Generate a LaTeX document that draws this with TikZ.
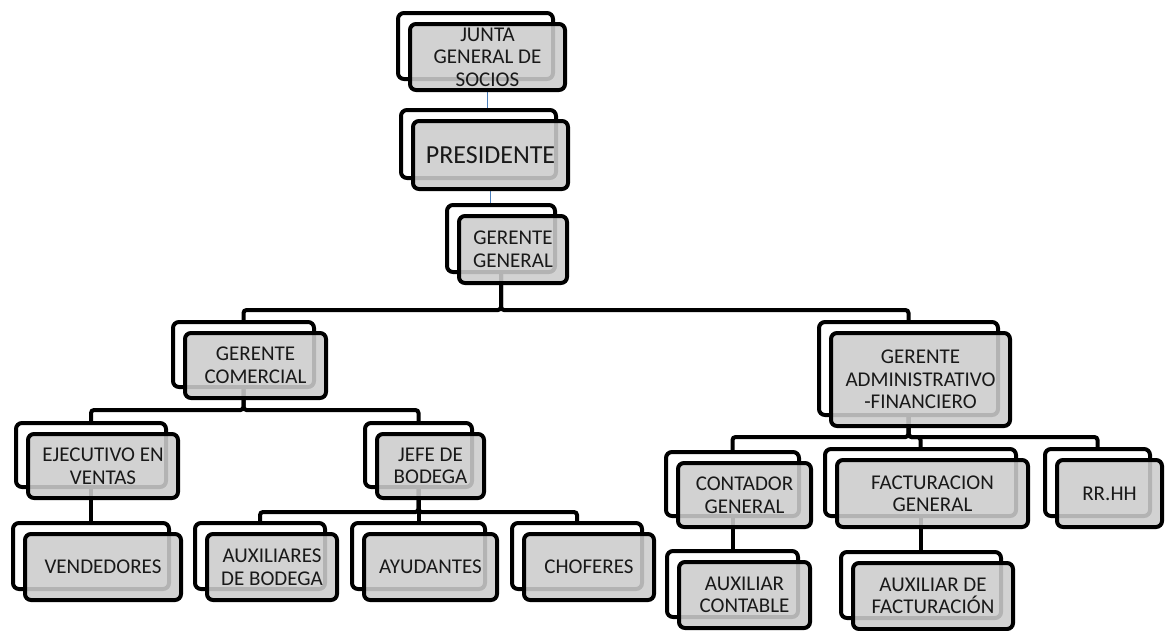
\documentclass[tikz,border=0pt]{standalone}
\usepackage{fontspec}
\setmainfont{Carlito}
\pgfdeclarelayer{bg}
\pgfsetlayers{bg,main}
\definecolor{linkblue}{HTML}{4A7EBB}
\tikzset{
  backbox/.style={draw=black, line width=4pt, fill=white, rounded corners=6pt, inner sep=0pt},
  frontbox/.style={draw=black, line width=4pt, fill=black!20, fill opacity=0.88, draw opacity=1, rounded corners=6pt, inner sep=0pt},
  boxlabel/.style={inner sep=0pt, align=center, text=black!90, font=\fontsize{21}{22.5}\selectfont},
  conn/.style={line width=4pt, draw=black, rounded corners=3pt},
  bluelink/.style={line width=1.2pt, draw=linkblue}
}
\newcommand\obox[6]{%
  \node[backbox, minimum width=#4pt-4pt, minimum height=#5pt-4pt] (#1-b) at ({#2-12},{#3-11}) {};
  \node[frontbox, minimum width=#4pt-4pt, minimum height=#5pt-4pt] (#1) at (#2,#3) {};
  \node[boxlabel] (#1-t) at (#1.center) {#6};
}
\begin{document}
\begin{tikzpicture}[x=1pt,y=-1pt]
\useasboundingbox (0,0) rectangle (1165,630);

\obox{junta}{487.5}{57}{159}{70}{JUNTA\\GENERAL DE\\SOCIOS}
\obox{pres}{490.5}{155}{159}{72}{\fontsize{26}{28}\selectfont PRESIDENTE}
\obox{gg}{513}{249.5}{112}{71}{GERENTE\\GENERAL}
\obox{gc}{255.5}{365.5}{145}{69}{GERENTE\\COMERCIAL}
\obox{gaf}{920.5}{379.5}{183}{97}{GERENTE\\ADMINISTRATIVO\\-FINANCIERO}
\obox{ej}{103}{466}{154}{68}{EJECUTIVO EN\\VENTAS}
\obox{jb}{430.5}{466}{111}{68}{JEFE DE\\BODEGA}
\obox{cont}{744.5}{495}{137}{68}{CONTADOR\\GENERAL}
\obox{fact}{932.5}{493.5}{195}{71}{FACTURACION\\GENERAL}
\obox{rrhh}{1109.5}{493.5}{109}{71}{RR.HH}
\obox{vend}{103}{567}{160}{70}{VENDEDORES}
\obox{auxb}{272}{567}{134}{70}{AUXILIARES\\DE BODEGA}
\obox{ayud}{430.5}{567}{137}{70}{AYUDANTES}
\obox{chof}{589}{567}{134}{70}{CHOFERES}
\obox{auxc}{744.5}{595}{135}{70}{AUXILIAR\\CONTABLE}
\obox{auxf}{933}{596}{164}{70}{AUXILIAR DE\\FACTURACIÓN}

\begin{pgfonlayer}{bg}
\draw[bluelink] (junta.south) -- (junta.south |- pres-b.north);
\draw[bluelink] (pres.south) -- (pres.south |- gg-b.north);
\draw[conn] (gg-b.center) -- (gg-b.center |- 0,310) -| (gc-b.north);
\draw[conn] (gg-b.center) -- (gg-b.center |- 0,310) -| (gaf-b.north);
\draw[conn] (gc-b.center) -- (gc-b.center |- 0,410) -| (ej-b.north);
\draw[conn] (gc-b.center) -- (gc-b.center |- 0,410) -| (jb-b.north);
\draw[conn] (ej-b.center) -- (ej-b.center |- vend-b.north);
\draw[conn] (jb-b.center) -- (jb-b.center |- 0,512) -| (auxb-b.north);
\draw[conn] (jb-b.center) -- (jb-b.center |- ayud-b.north);
\draw[conn] (jb-b.center) -- (jb-b.center |- 0,512) -| (chof-b.north);
\draw[conn] (gaf-b.center) -- (gaf-b.center |- 0,437) -| (cont-b.north);
\draw[conn] (gaf-b.center) -- (gaf-b.center |- 0,437) -| (fact-b.north);
\draw[conn] (gaf-b.center) -- (gaf-b.center |- 0,437) -| (rrhh-b.north);
\draw[conn] (cont-b.center) -- (cont-b.center |- auxc-b.north);
\draw[conn] (fact-b.center) -- (fact-b.center |- auxf-b.north);
\end{pgfonlayer}
\end{tikzpicture}
\end{document}
